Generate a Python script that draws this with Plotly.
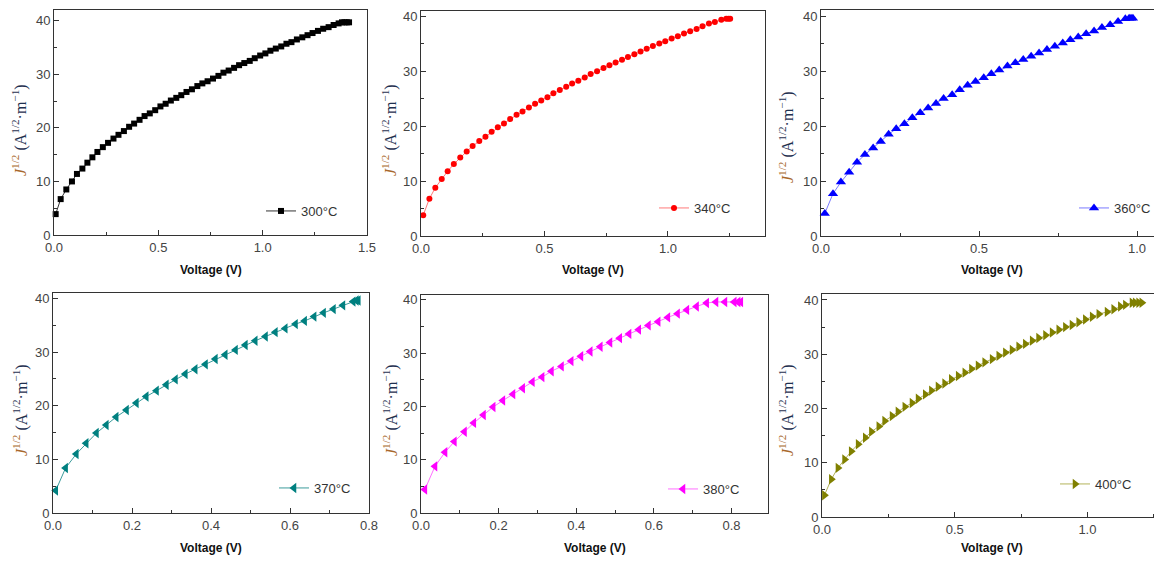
import plotly.graph_objects as go

# the page body adds an 8 px offset; the figure is sized to fill the rest of the window
OFF = 8
W, H = 1162 - OFF, 561 - OFF

# ---------------- data ----------------
labels = ["300°C", "340°C", "360°C", "370°C", "380°C", "400°C"]

V1 = [0.008,0.032,0.059,0.086,0.11,0.136,0.16,0.184,0.208,0.234,0.259,0.285,0.309,0.335,0.36,0.384,0.41,0.434,0.459,0.485,
      0.51,0.535,0.56,0.586,0.61,0.635,0.661,0.687,0.711,0.736,0.762,0.788,0.812,0.837,0.863,0.887,0.912,0.938,0.962,0.988,
      1.013,1.037,1.063,1.089,1.114,1.138,1.164,1.19,1.215,1.239,1.265,1.29,1.316,1.34,1.364,1.38,1.392,1.403,1.414]
J1 = [3.9,6.7,8.5,10.0,11.4,12.4,13.5,14.5,15.5,16.4,17.2,18.0,18.7,19.4,20.2,20.8,21.5,22.2,22.7,23.3,
      24.0,24.5,25.1,25.6,26.1,26.7,27.2,27.8,28.3,28.7,29.2,29.7,30.3,30.7,31.2,31.7,32.1,32.5,33.0,33.5,
      33.9,34.4,34.8,35.2,35.7,36.0,36.5,36.9,37.3,37.7,38.1,38.5,38.8,39.2,39.5,39.7,39.7,39.7,39.7]

V2 = [0.009,0.034,0.058,0.084,0.108,0.133,0.159,0.185,0.209,0.236,0.261,0.286,0.311,0.336,0.361,0.387,0.411,0.437,0.462,0.487,
      0.512,0.536,0.562,0.588,0.612,0.637,0.663,0.687,0.713,0.739,0.763,0.788,0.814,0.838,0.864,0.889,0.914,0.939,0.965,0.989,
      1.015,1.04,1.065,1.09,1.116,1.14,1.166,1.19,1.216,1.236,1.245,1.252]
J2 = [3.8,6.8,8.8,10.4,11.8,13.1,14.3,15.4,16.4,17.3,18.1,19.0,19.8,20.5,21.3,22.1,22.7,23.4,24.1,24.7,
      25.3,26.0,26.6,27.2,27.8,28.3,28.9,29.5,30.0,30.6,31.1,31.6,32.1,32.6,33.1,33.6,34.1,34.6,35.1,35.5,
      36.0,36.4,36.9,37.3,37.7,38.2,38.7,39.0,39.4,39.6,39.6,39.6]

V3 = [0.012,0.038,0.063,0.089,0.114,0.139,0.165,0.189,0.214,0.238,0.264,0.289,0.314,0.339,0.364,0.388,0.415,0.439,0.464,0.489,
      0.515,0.539,0.564,0.59,0.615,0.64,0.665,0.69,0.715,0.74,0.765,0.789,0.814,0.839,0.864,0.889,0.915,0.94,0.963,0.975,
      0.981,0.987]
J3 = [4.1,7.7,9.8,11.6,13.4,14.8,16.0,17.2,18.5,19.5,20.4,21.5,22.4,23.3,24.1,25.0,25.7,26.6,27.4,28.1,
      28.8,29.5,30.2,30.9,31.5,32.1,32.7,33.3,33.9,34.5,35.1,35.7,36.2,36.8,37.3,37.9,38.4,39.0,39.5,39.6,
      39.6,39.6]

V4 = [0.007,0.032,0.059,0.084,0.11,0.135,0.16,0.186,0.211,0.236,0.262,0.287,0.31,0.335,0.36,0.386,0.411,0.436,0.462,0.487,
      0.512,0.538,0.563,0.588,0.614,0.637,0.661,0.685,0.71,0.734,0.76,0.768,0.773]
J4 = [4.2,8.4,11.0,13.0,14.9,16.4,17.9,19.2,20.5,21.7,22.8,23.9,24.9,25.9,26.8,27.7,28.7,29.5,30.4,31.3,
      32.1,32.9,33.7,34.4,35.2,35.8,36.6,37.3,38.0,38.7,39.4,39.6,39.6]

V5 = [0.01,0.036,0.062,0.086,0.112,0.136,0.161,0.186,0.211,0.237,0.262,0.287,0.312,0.336,0.362,0.387,0.412,0.436,0.462,0.487,
      0.512,0.536,0.561,0.586,0.611,0.636,0.661,0.685,0.71,0.736,0.76,0.783,0.807,0.817,0.824]
J5 = [4.4,8.75,11.4,13.4,15.25,16.9,18.4,19.9,21.1,22.3,23.4,24.6,25.5,26.6,27.5,28.5,29.4,30.3,31.2,32.0,
      32.8,33.6,34.4,35.2,35.9,36.7,37.4,38.1,38.75,39.4,39.6,39.6,39.6,39.6,39.6]

V6 = [0.009,0.035,0.06,0.085,0.11,0.136,0.163,0.186,0.214,0.236,0.264,0.286,0.312,0.339,0.362,0.389,0.412,0.437,0.462,0.487,
      0.513,0.538,0.563,0.588,0.613,0.641,0.666,0.691,0.716,0.741,0.766,0.792,0.816,0.842,0.867,0.892,0.917,0.942,0.967,0.992,
      1.018,1.043,1.074,1.099,1.124,1.143,1.168,1.18,1.193,1.205]
J6 = [4.0,6.95,9.05,10.6,12.1,13.4,14.6,15.7,16.7,17.7,18.6,19.4,20.3,21.0,21.8,22.6,23.3,24.0,24.6,25.4,
      26.0,26.6,27.3,27.9,28.5,29.1,29.7,30.3,30.8,31.4,31.9,32.5,33.0,33.5,34.0,34.5,35.0,35.4,35.9,36.4,
      36.9,37.4,37.8,38.3,38.8,39.1,39.5,39.5,39.5,39.5]

xs = [V1, V2, V3, V4, V5, V6]
ys = [J1, J2, J3, J4, J5, J6]

x_ticks = [[0.0, 0.5, 1.0, 1.5], [0.0, 0.5, 1.0], [0.0, 0.5, 1.0],
           [0.0, 0.2, 0.4, 0.6, 0.8], [0.0, 0.2, 0.4, 0.6, 0.8], [0.0, 0.5, 1.0]]
y_ticks = [0, 10, 20, 30, 40]

# ---------------- styles ----------------
marker_colors = ["#000000", "#ff0000", "#0000ff", "#008080", "#ff00ff", "#808000"]
line_colors = ["#333333", "#ff7a7a", "#7a7aff", "#3c9c9c", "#ff70ff", "#b3b35a"]
symbols = ["square", "circle", "triangle-up", "triangle-left", "triangle-left", "triangle-right"]
msizes = [6, 6, 9, 9, 9, 9]

# panel boxes in window pixels: (left, right, top, bottom)
boxes = [(54, 367, 10, 235), (421, 765, 11, 236), (821, 1162, 10, 236),
         (53, 369, 293, 513), (421, 768, 295, 513), (822, 1162, 294, 517)]
x_ranges = [[0, 1.5], [0, 1.393], [0, 1.079], [0, 0.8], [0, 0.894], [0, 1.281]]
y_ranges = [[0, 42], [0, 41], [0, 41.1], [0, 41], [0, 40.9], [0, 41.1]]
x_minor = [0.25, 0.25, 0.25, 0.1, 0.1, 0.25]
# legend anchor (left edge of the legend box, vertical centre) in window pixels
legend_pos = [(261, 211), (654, 208), (1074, 208), (274, 488), (663, 489), (1055, 484)]
ytitle_pos = [(20, 130), (390, 130), (786, 137), (20, 410), (390, 410), (786, 410)]


def fx(px):
    return (px - OFF) / W


def fy(py):
    return 1 - (py - OFF) / H


fig = go.Figure()
layout = dict(width=W, height=H, margin=dict(l=0, r=0, t=0, b=0, pad=0, autoexpand=False),
              paper_bgcolor="white", plot_bgcolor="white", showlegend=True)

annotations = []
ytitle = ('<span style="color:#a8682c"><i>J</i><sup>1/2</sup></span>'
          '<span style="color:#1f3050"> (A<sup>1/2</sup>·m<sup>−1</sup>)</span>')

for i in range(6):
    n = "" if i == 0 else str(i + 1)
    leg = "legend" if i == 0 else "legend" + str(i + 1)
    l, r, t, b = boxes[i]
    fig.add_trace(go.Scatter(
        x=xs[i], y=ys[i], mode="lines+markers", name=labels[i],
        xaxis="x" + n, yaxis="y" + n, legend=leg, cliponaxis=False,
        line=dict(color=line_colors[i], width=1),
        marker=dict(symbol=symbols[i], size=msizes[i], color=marker_colors[i], line=dict(width=0)),
    ))
    axis_common = dict(showline=True, mirror=True, linecolor="#333333", linewidth=1, automargin=False,
                       ticks="inside", ticklen=5, tickcolor="#333333", showgrid=False, zeroline=False,
                       tickfont=dict(family="Liberation Sans, Arial", size=13, color="#444444"))
    layout["xaxis" + n] = dict(axis_common, domain=[fx(l), min(fx(r), 1.0)], range=x_ranges[i],
                               anchor="y" + n, tickvals=x_ticks[i], tickformat=".1f",
                               minor=dict(ticks="inside", ticklen=3, dtick=x_minor[i], tick0=0,
                                          tickcolor="#333333"))
    layout["yaxis" + n] = dict(axis_common, domain=[fy(b), fy(t)], range=y_ranges[i],
                               anchor="x" + n, tickvals=y_ticks,
                               minor=dict(ticks="inside", ticklen=3, dtick=5, tick0=0,
                                          tickcolor="#333333"))
    lx, ly = legend_pos[i]
    layout[leg] = dict(x=fx(lx), y=fy(ly), xanchor="left", yanchor="middle",
                       bgcolor="rgba(0,0,0,0)", borderwidth=0, itemwidth=30,
                       font=dict(family="Liberation Sans, Arial", size=13, color="#333333"))
    # x title
    xt_y = 270 if i < 3 else 548
    annotations.append(dict(text="<b>Voltage (V)</b>", x=fx((l + r) / 2), y=fy(xt_y),
                            xref="paper", yref="paper", showarrow=False,
                            xanchor="center", yanchor="middle",
                            font=dict(family="Liberation Sans, Arial", size=12, color="#111111")))
    tx, ty = ytitle_pos[i]
    annotations.append(dict(text=ytitle, x=fx(tx), y=fy(ty), xref="paper", yref="paper",
                            showarrow=False, textangle=-90, xanchor="center", yanchor="middle",
                            font=dict(family="Liberation Serif, Times New Roman", size=16)))

layout["annotations"] = annotations
fig.update_layout(**layout)
fig.write_html("out.html")
